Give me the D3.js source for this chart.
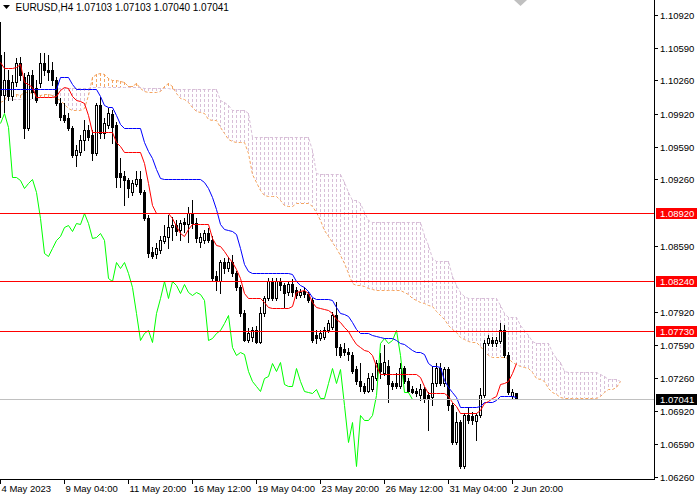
<!DOCTYPE html>
<html><head><meta charset="utf-8">
<script src="https://cdn.jsdelivr.net/npm/d3@7"></script>
<style>html,body{margin:0;padding:0;background:#fff;overflow:hidden}text{font-family:"Liberation Sans",Arial,sans-serif;}</style>
</head><body><svg id="c" width="700" height="500"></svg>
<script>
const symbolTitle = "EURUSD,H4";
const lastQuote = ["1.07103", "1.07103", "1.07040", "1.07041"];

const open = [
1.1052,1.1011,1.1026,1.1010,1.1024,1.1044,1.1029,1.0978,1.1031,1.1018,
1.1023,1.1044,1.1036,1.1036,1.1026,1.1003,1.0991,1.0988,1.0978,1.0951,
1.0954,1.0966,1.0976,1.0971,1.0953,1.1001,1.0973,1.0981,1.0992,1.0981,
1.0933,1.0930,1.0925,1.0913,1.0921,1.0926,1.0913,1.0887,1.0853,1.0851,
1.0855,1.0864,1.0868,1.0878,1.0880,1.0875,1.0883,1.0881,1.0892,1.0882,
1.0863,1.0865,1.0872,1.0865,1.0829,1.0824,1.0843,1.0837,1.0843,1.0832,
1.0817,1.0791,1.0764,1.0767,1.0774,1.0762,1.0791,1.0806,1.0824,1.0806,
1.0824,1.0819,1.0812,1.0821,1.0814,1.0809,1.0813,1.0810,1.0804,1.0769,
1.0766,1.0767,1.0774,1.0777,1.0789,1.0757,1.0755,1.0752,1.0749,1.0735,
1.0723,1.0718,1.0713,1.0715,1.0726,1.0741,1.0731,1.0738,1.0721,1.0721,
1.0718,1.0736,1.0723,1.0715,1.0713,1.0708,1.0715,1.0708,1.0706,1.0721,
1.0736,1.0721,1.0735,1.0698,1.0661,1.0681,1.0637,1.0688,1.0687,1.0682,
1.0688,1.0708,1.0761,1.0764,1.0761,1.0763,1.0774,1.0749,1.0707,1.07103];
const high = [
1.1085,1.1055,1.1036,1.1031,1.1049,1.1050,1.1033,1.1034,1.1036,1.1026,
1.1054,1.1054,1.1052,1.1045,1.1029,1.1008,1.1003,1.0993,1.0980,1.0961,
1.0971,1.0986,1.0981,1.0976,1.1003,1.1009,1.0988,1.0998,1.0996,1.0984,
1.0948,1.0935,1.0927,1.0925,1.0935,1.0935,1.0915,1.0890,1.0858,1.0862,
1.0869,1.0880,1.0890,1.0888,1.0885,1.0885,1.0887,1.0898,1.0905,1.0887,
1.0872,1.0875,1.0877,1.0869,1.0834,1.0845,1.0847,1.0848,1.0850,1.0834,
1.0819,1.0794,1.0776,1.0777,1.0778,1.0797,1.0808,1.0827,1.0827,1.0827,
1.0827,1.0822,1.0824,1.0826,1.0817,1.0815,1.0817,1.0812,1.0806,1.0774,
1.0774,1.0777,1.0784,1.0792,1.0802,1.0760,1.0761,1.0756,1.0752,1.0738,
1.0741,1.0721,1.0731,1.0731,1.0744,1.0751,1.0759,1.0744,1.0723,1.0731,
1.0741,1.0738,1.0726,1.0718,1.0716,1.0720,1.0717,1.0711,1.0738,1.0741,
1.0741,1.0737,1.0737,1.0700,1.0691,1.0683,1.0690,1.0696,1.0691,1.0690,
1.0716,1.0764,1.0769,1.0767,1.0767,1.0781,1.0779,1.0752,1.0715,1.07103];
const low = [
1.0989,1.0994,1.1006,1.1006,1.1020,1.1026,1.0968,1.0976,1.1008,1.1004,
1.1019,1.1031,1.1026,1.1021,1.1001,1.0986,1.0984,1.0976,1.0949,1.0940,
1.0951,1.0956,1.0966,1.0946,1.0951,1.0968,1.0968,1.0978,1.0963,1.0918,
1.0918,1.0900,1.0908,1.0910,1.0919,1.0911,1.0885,1.0848,1.0847,1.0847,
1.0852,1.0862,1.0857,1.0865,1.0870,1.0865,1.0873,1.0863,1.0877,1.0863,
1.0858,1.0862,1.0863,1.0825,1.0814,1.0811,1.0832,1.0834,1.0829,1.0814,
1.0788,1.0763,1.0762,1.0763,1.0761,1.0761,1.0788,1.0804,1.0804,1.0804,
1.0814,1.0797,1.0809,1.0808,1.0806,1.0807,1.0807,1.0802,1.0762,1.0761,
1.0764,1.0765,1.0772,1.0775,1.0749,1.0747,1.0749,1.0744,1.0731,1.0720,
1.0713,1.0710,1.0711,1.0713,1.0724,1.0726,1.0729,1.0701,1.0715,1.0716,
1.0716,1.0721,1.0711,1.0710,1.0707,1.0703,1.0701,1.0673,1.0698,1.0718,
1.0719,1.0718,1.0693,1.0659,1.0659,1.0635,1.0635,1.0680,1.0679,1.0663,
1.0686,1.0706,1.0759,1.0758,1.0758,1.0761,1.0747,1.0709,1.0704,1.07040];
const close = [
1.1011,1.1026,1.1010,1.1024,1.1044,1.1031,1.0978,1.1031,1.1014,1.1006,
1.1044,1.1036,1.1034,1.1026,1.1003,1.0989,1.0986,1.0978,1.0951,1.0956,
1.0966,1.0976,1.0969,1.0953,1.1001,1.0973,1.0983,1.0993,1.0979,1.0928,
1.0928,1.0925,1.0917,1.0922,1.0926,1.0913,1.0887,1.0852,1.0849,1.0857,
1.0865,1.0869,1.0878,1.0880,1.0874,1.0882,1.0881,1.0892,1.0882,1.0867,
1.0868,1.0872,1.0865,1.0827,1.0824,1.0843,1.0837,1.0843,1.0832,1.0817,
1.0791,1.0764,1.0771,1.0774,1.0762,1.0791,1.0806,1.0824,1.0806,1.0824,
1.0819,1.0811,1.0821,1.0812,1.0809,1.0812,1.0810,1.0804,1.0764,1.0766,
1.0771,1.0774,1.0781,1.0789,1.0757,1.0749,1.0752,1.0750,1.0733,1.0723,
1.0718,1.0713,1.0726,1.0728,1.0741,1.0733,1.0742,1.0720,1.0718,1.0718,
1.0736,1.0723,1.0713,1.0712,1.0710,1.0715,1.0705,1.0705,1.0721,1.0736,
1.0721,1.0735,1.0698,1.0661,1.0681,1.0637,1.0688,1.0683,1.0683,1.0688,
1.0708,1.0761,1.0766,1.0761,1.0764,1.0774,1.0749,1.0711,1.0711,1.07041];

const tenkan = [
1.1045,1.1039,1.1039,1.1039,1.1040,1.1043,1.1024,1.1022,1.1019,1.1009,
1.1009,1.1009,1.1009,1.1009,1.1010,1.1016,1.1019,1.1018,1.1010,1.1006,
1.1005,1.1003,1.0991,1.0974,1.0974,1.0974,1.0974,1.0974,1.0974,1.0964,
1.0960,1.0954,1.0954,1.0954,1.0954,1.0954,1.0943,1.0922,1.0900,1.0892,
1.0892,1.0892,1.0892,1.0887,1.0879,1.0872,1.0869,1.0876,1.0881,1.0881,
1.0881,1.0881,1.0881,1.0867,1.0860,1.0859,1.0854,1.0848,1.0843,1.0836,
1.0827,1.0811,1.0806,1.0806,1.0806,1.0806,1.0802,1.0797,1.0796,1.0796,
1.0796,1.0796,1.0796,1.0798,1.0812,1.0813,1.0814,1.0811,1.0802,1.0797,
1.0796,1.0795,1.0794,1.0791,1.0785,1.0782,1.0777,1.0773,1.0766,1.0760,
1.0757,1.0754,1.0753,1.0749,1.0738,1.0730,1.0730,1.0730,1.0730,1.0730,
1.0730,1.0730,1.0730,1.0730,1.0730,1.0727,1.0718,1.0710,1.0710,1.0710,
1.0710,1.0710,1.0707,1.0701,1.0697,1.0690,1.0690,1.0690,1.0690,1.0690,
1.0693,1.0700,1.0702,1.0705,1.0707,1.0720,1.0721,1.0723,1.0731,1.0741];
const kijun = [
1.1017,1.1017,1.1017,1.1017,1.1017,1.1017,1.1017,1.1017,1.1017,1.1017,
1.1017,1.1017,1.1017,1.1017,1.1017,1.1029,1.1029,1.1029,1.1022,1.1017,
1.1017,1.1017,1.1017,1.1017,1.1017,1.1010,1.1001,1.0999,1.0999,1.0991,
1.0982,1.0978,1.0978,1.0978,1.0978,1.0978,1.0964,1.0955,1.0948,1.0937,
1.0927,1.0926,1.0926,1.0926,1.0926,1.0926,1.0926,1.0926,1.0926,1.0926,
1.0926,1.0923,1.0917,1.0908,1.0896,1.0881,1.0876,1.0875,1.0874,1.0871,
1.0857,1.0841,1.0834,1.0832,1.0832,1.0832,1.0832,1.0832,1.0832,1.0832,
1.0832,1.0832,1.0832,1.0831,1.0824,1.0819,1.0817,1.0813,1.0807,1.0805,
1.0805,1.0805,1.0805,1.0804,1.0797,1.0791,1.0790,1.0788,1.0782,1.0775,
1.0771,1.0771,1.0771,1.0769,1.0768,1.0767,1.0766,1.0766,1.0766,1.0764,
1.0761,1.0760,1.0757,1.0754,1.0752,1.0752,1.0750,1.0741,1.0738,1.0738,
1.0737,1.0724,1.0717,1.0711,1.0706,1.0696,1.0696,1.0696,1.0696,1.0696,
1.0697,1.0701,1.0701,1.0701,1.0703,1.0707,1.0707,1.0707,1.0707,1.0706];

const spanA = [
1.1004,1.1006,1.1013,1.1013,1.1012,1.1011,1.1014,1.1014,1.1013,1.1012,
1.1011,1.1012,1.1012,1.1011,1.1008,1.1006,1.1002,1.0998,1.0996,1.0996,
1.0996,1.0998,1.1011,1.1029,1.1032,1.1033,1.1032,1.1028,1.1026,1.1026,
1.1025,1.1024,1.1020,1.1020,1.1023,1.1018,1.1015,1.1014,1.1014,1.1014,
1.1015,1.1020,1.1023,1.1020,1.1013,1.1008,1.1007,1.1004,1.0999,1.0995,
1.0994,1.0993,1.0987,1.0986,1.0986,1.0979,1.0973,1.0967,1.0965,1.0964,
1.0964,1.0964,1.0953,1.0932,1.0923,1.0915,1.0910,1.0909,1.0909,1.0909,
1.0905,1.0900,1.0899,1.0899,1.0902,1.0902,1.0902,1.0902,1.0899,1.0893,
1.0885,1.0875,1.0869,1.0863,1.0857,1.0850,1.0842,1.0832,1.0822,1.0819,
1.0819,1.0818,1.0816,1.0815,1.0814,1.0814,1.0814,1.0814,1.0814,1.0814,
1.0814,1.0812,1.0810,1.0806,1.0804,1.0802,1.0801,1.0799,1.0798,1.0793,
1.0789,1.0785,1.0779,1.0775,1.0772,1.0767,1.0765,1.0763,1.0762,1.0762,
1.0758,1.0753,1.0749,1.0747,1.0747,1.0747,1.0747,1.0746,1.0742,1.0740,
1.0738,1.0737,1.0736,1.0732,1.0726,1.0725,1.0723,1.0716,1.0712,1.0709,
1.0706,1.0705,1.0705,1.0705,1.0705,1.0705,1.0705,1.0705,1.0705,1.0705,
1.0707,1.0712,1.0715,1.0715,1.0717,1.0723];
const spanB = [
1.1026,1.1021,1.1008,1.1007,1.1007,1.1007,1.1007,1.1007,1.1007,1.1008,
1.1009,1.1009,1.1009,1.1009,1.1017,1.1018,1.1018,1.1018,1.1018,1.1018,
1.1018,1.1018,1.1018,1.1019,1.1019,1.1019,1.1019,1.1019,1.1019,1.1019,
1.1019,1.1019,1.1019,1.1019,1.1019,1.1019,1.1018,1.1018,1.1018,1.1018,
1.1018,1.1018,1.1018,1.1017,1.1017,1.1017,1.1017,1.1017,1.1017,1.1017,
1.1017,1.1017,1.1017,1.1017,1.1017,1.1006,1.1004,1.1001,1.0996,1.0996,
1.0996,1.0996,1.0993,1.0969,1.0969,1.0969,1.0969,1.0969,1.0969,1.0969,
1.0969,1.0969,1.0969,1.0969,1.0969,1.0969,1.0969,1.0969,1.0956,1.0933,
1.0932,1.0932,1.0932,1.0932,1.0932,1.0932,1.0923,1.0913,1.0905,1.0905,
1.0902,1.0893,1.0885,1.0883,1.0883,1.0883,1.0883,1.0883,1.0883,1.0883,
1.0883,1.0883,1.0883,1.0883,1.0883,1.0883,1.0870,1.0860,1.0847,1.0844,
1.0844,1.0844,1.0844,1.0829,1.0819,1.0812,1.0808,1.0806,1.0806,1.0806,
1.0806,1.0806,1.0806,1.0806,1.0806,1.0799,1.0791,1.0787,1.0787,1.0787,
1.0779,1.0774,1.0769,1.0763,1.0761,1.0761,1.0761,1.0761,1.0752,1.0746,
1.0742,1.0733,1.0732,1.0732,1.0732,1.0732,1.0732,1.0732,1.0732,1.0732,
1.0730,1.0728,1.0725,1.0725,1.0725,1.0723];

const chikouShift = 26;
const timeTickBars = [0, 16, 32, 48, 64, 80, 96, 112, 128];
const timeTickLabels = ["4 May 2023", "9 May 04:00", "11 May 20:00", "16 May 12:00", "19 May 04:00", "23 May 20:00", "26 May 12:00", "31 May 04:00", "2 Jun 20:00"];
const priceTicks = [1.1092, 1.1059, 1.1026, 1.0992, 1.0959, 1.0926, 1.0859, 1.0792, 1.0759, 1.0726, 1.0692, 1.0659, 1.0626];
const levels = [1.0892, 1.0824, 1.0773];
const bid = 1.07041;

const W = 700, H = 500, plotW = 654, plotH = 479;
const x = d3.scaleLinear().domain([0, 163.5]).range([0, plotW]);
const y = d3.scaleLinear().domain([1.062369, 1.110714]).range([plotH, 0]);
const px = i => Math.round(x(i));
const py = v => Math.round(y(v));

const svg = d3.select("#c");
svg.append("rect").attr("width", W).attr("height", H).attr("fill", "#fff");
svg.append("defs").append("clipPath").attr("id", "plot")
  .append("rect").attr("x", 0).attr("y", 0).attr("width", plotW).attr("height", plotH);
const g = svg.append("g").attr("clip-path", "url(#plot)");

const SANDY = "#F4A460", THISTLE = "#D8BFD8";

// Kumo hatch
const cloud = spanA.map((a, j) => ({ j, a, b: spanB[j] })).filter(d => py(d.a) !== py(d.b));
g.append("g").attr("shape-rendering", "crispEdges").selectAll("line").data(cloud).join("line")
  .attr("x1", d => px(d.j) + 0.5).attr("x2", d => px(d.j) + 0.5)
  .attr("y1", d => py(Math.max(d.a, d.b))).attr("y2", d => py(Math.min(d.a, d.b)))
  .attr("stroke", d => d.a >= d.b ? SANDY : THISTLE)
  .attr("stroke-width", 1).attr("stroke-dasharray", "3,2");

const lineGen = d3.line().x(d => px(d.i) + 0.5).y(d => py(d.v) + 0.5);
const series = arr => arr.map((v, i) => ({ i, v }));

g.append("path").datum(series(spanB)).attr("d", lineGen).attr("fill", "none")
  .attr("stroke", THISTLE).attr("stroke-dasharray", "3,2");
g.append("path").datum(series(spanA)).attr("d", lineGen).attr("fill", "none")
  .attr("stroke", SANDY).attr("stroke-dasharray", "3,2");

// candles
const bars = open.map((o, i) => ({ i, o, h: high[i], l: low[i], c: close[i] }));
const cg = g.append("g").attr("shape-rendering", "crispEdges");
cg.append("g").selectAll("rect").data(bars).join("rect")
  .attr("x", d => px(d.i)).attr("width", 1)
  .attr("y", d => py(d.h)).attr("height", d => py(d.l) - py(d.h) + 1)
  .attr("fill", "#000");
cg.append("g").selectAll("rect").data(bars).join("rect").each(function (d) {
  const top = py(Math.max(d.o, d.c)), bot = py(Math.min(d.o, d.c));
  const s = d3.select(this);
  if (d.c < d.o) {
    s.attr("x", px(d.i) - 1).attr("y", top).attr("width", 3)
      .attr("height", Math.max(1, bot - top + 1)).attr("fill", "#000");
  } else {
    s.attr("x", px(d.i) - 0.5).attr("y", top + 0.5).attr("width", 2)
      .attr("height", Math.max(1, bot - top)).attr("fill", "#fff").attr("stroke", "#000");
  }
});

// chikou, kijun, tenkan
const chikou = close.slice(chikouShift).map((v, k) => ({ i: k, v }));
g.append("path").datum(chikou).attr("d", lineGen).attr("fill", "none").attr("stroke", "#00FF00");
g.append("path").datum(series(kijun)).attr("d", lineGen).attr("fill", "none").attr("stroke", "#0000FF");
g.append("path").datum(series(tenkan)).attr("d", lineGen).attr("fill", "none").attr("stroke", "#FF0000");

// horizontal levels, drawn on top
const hl = svg.append("g").attr("shape-rendering", "crispEdges");
hl.selectAll("path.lv").data(levels).join("path").attr("class", "lv")
  .attr("d", d => `M0,${py(d) + 0.5}H${plotW}`)
  .attr("fill", "none").attr("stroke", "#FF0000").attr("stroke-width", 1);
hl.append("path").attr("d", `M0,${py(bid) + 0.5}H${plotW}`)
  .attr("fill", "none").attr("stroke", "#C0C0C0").attr("stroke-width", 1);

// axes
const ax = svg.append("g").attr("shape-rendering", "crispEdges");
ax.append("rect").attr("x", plotW).attr("y", 0).attr("width", 1).attr("height", plotH + 1).attr("fill", "#000");
ax.append("rect").attr("x", 0).attr("y", plotH).attr("width", plotW + 1).attr("height", 1).attr("fill", "#000");

const yt = ax.selectAll("g.yt").data(priceTicks).join("g").attr("class", "yt");
yt.append("rect").attr("x", plotW + 1).attr("width", 3).attr("y", d => py(d)).attr("height", 1).attr("fill", "#000");
yt.append("text").attr("x", plotW + 6).attr("y", d => py(d) + 4)
  .attr("font-size", "9.5px").attr("fill", "#000").text(d => d.toFixed(5));

const boxes = levels.map(v => ({ v, fill: "#FF0000" })).concat([{ v: bid, fill: "#000000" }]);
const bx = svg.selectAll("g.box").data(boxes).join("g").attr("class", "box");
bx.append("rect").attr("x", plotW + 2).attr("width", 41).attr("y", d => py(d.v) - 5).attr("height", 11)
  .style("fill", d => d.fill).attr("shape-rendering", "crispEdges");
bx.append("text").attr("x", plotW + 6).attr("y", d => py(d.v) + 4)
  .attr("font-size", "9.5px").attr("fill", "#fff").text(d => d.v.toFixed(5));

const xt = ax.selectAll("g.xt").data(timeTickBars.map((b, k) => ({ b, label: timeTickLabels[k] }))).join("g").attr("class", "xt");
xt.append("rect").attr("x", d => px(d.b)).attr("width", 1).attr("y", plotH + 1).attr("height", 4).attr("fill", "#000");
xt.append("text").attr("x", d => px(d.b) + 1.5).attr("y", plotH + 13)
  .attr("font-size", "9.5px").attr("fill", "#000").text(d => d.label);

// header
svg.append("path").attr("d", "M3,5 L10,5 L6.5,9 Z").attr("fill", "#000");
svg.append("text").attr("x", 15.5).attr("y", 11).attr("font-size", "10px").attr("fill", "#000").text(symbolTitle);
svg.append("text").attr("x", 76).attr("y", 11).attr("font-size", "10px").attr("fill", "#000").text(lastQuote.join(" "));

// chart shift marker
const shiftX = px(close.length - 1) + 4;
svg.append("path").attr("d", `M${shiftX - 6},0 L${shiftX + 7},0 L${shiftX + 0.5},6 Z`).attr("fill", "#C0C0C0");
</script></body></html>
